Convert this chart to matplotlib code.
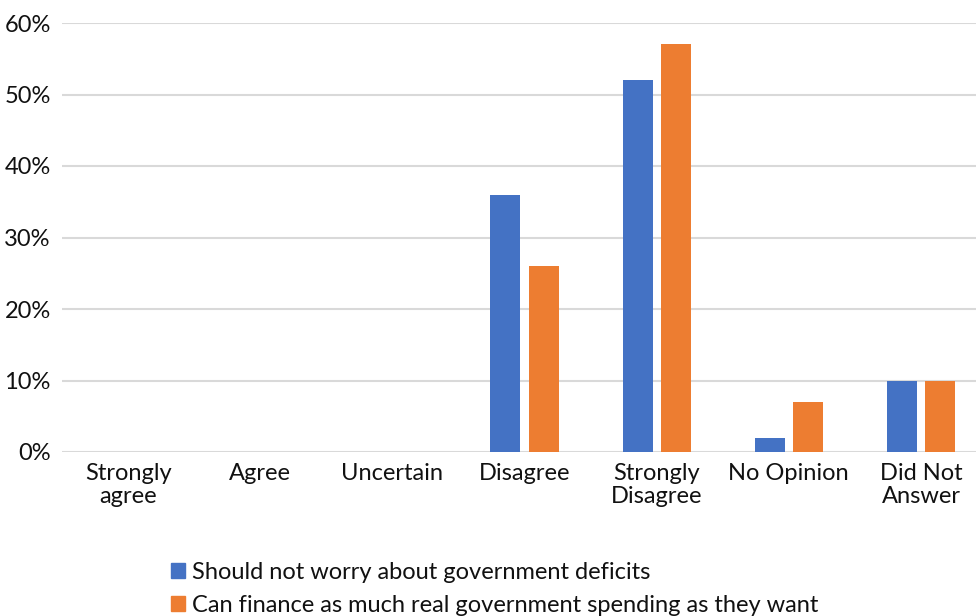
import matplotlib
matplotlib.use("Agg")
import matplotlib.pyplot as plt
import numpy as np
from matplotlib.patches import Patch

categories = ["Strongly\nagree", "Agree", "Uncertain", "Disagree", "Strongly\nDisagree", "No Opinion", "Did Not\nAnswer"]
series_names = ["Should not worry about government deficits",
                "Can finance as much real government spending as they want"]
worry = [0, 0, 0, 36, 52, 2, 10]
finance = [0, 0, 0, 26, 57, 7, 10]
yticks = [0, 10, 20, 30, 40, 50, 60]
colors = ["#4472C4", "#ED7D31"]

plt.rcParams['font.family'] = ['Lato', 'DejaVu Sans']

fig = plt.figure(figsize=(9.76, 6.16), dpi=100)
W, H = 976, 616
left, right, top, bottom = 62, 987, 23, 452
ax = fig.add_axes([left / W, 1 - bottom / H, (right - left) / W, (bottom - top) / H])

x = np.arange(len(categories))
bw = 0.227
off = 0.144
ax.bar(x - off, worry, bw, color=colors[0], zorder=3)
ax.bar(x + off, finance, bw, color=colors[1], zorder=3)

fs = 17
ax.set_xlim(-0.5, len(categories) - 0.5)
ax.set_ylim(0, 60)
ax.set_yticks(yticks)
ax.set_yticklabels([f"{v}%" for v in yticks], fontsize=fs, color="#111111")
ax.yaxis.grid(True, color="#d9d9d9", linewidth=1.5, zorder=0)
ax.set_xticks(x)
ax.set_xticklabels(categories, fontsize=fs, color="#111111", linespacing=1.12)
ax.tick_params(axis='both', length=0)
ax.tick_params(axis='y', pad=8)
ax.tick_params(axis='x', pad=8)
for s in ["left", "right", "top", "bottom"]:
    ax.spines[s].set_visible(False)

handles = [Patch(color=colors[0]), Patch(color=colors[1])]
fig.legend(handles, series_names, loc="upper left", bbox_to_anchor=(171 / W, 1 - 562 / H),
           frameon=False, fontsize=fs, handlelength=0.6, handleheight=0.6,
           handletextpad=0.3, labelspacing=0.5, borderaxespad=0, borderpad=0,
           labelcolor="#111111")

fig.savefig("out.png", dpi=100)
